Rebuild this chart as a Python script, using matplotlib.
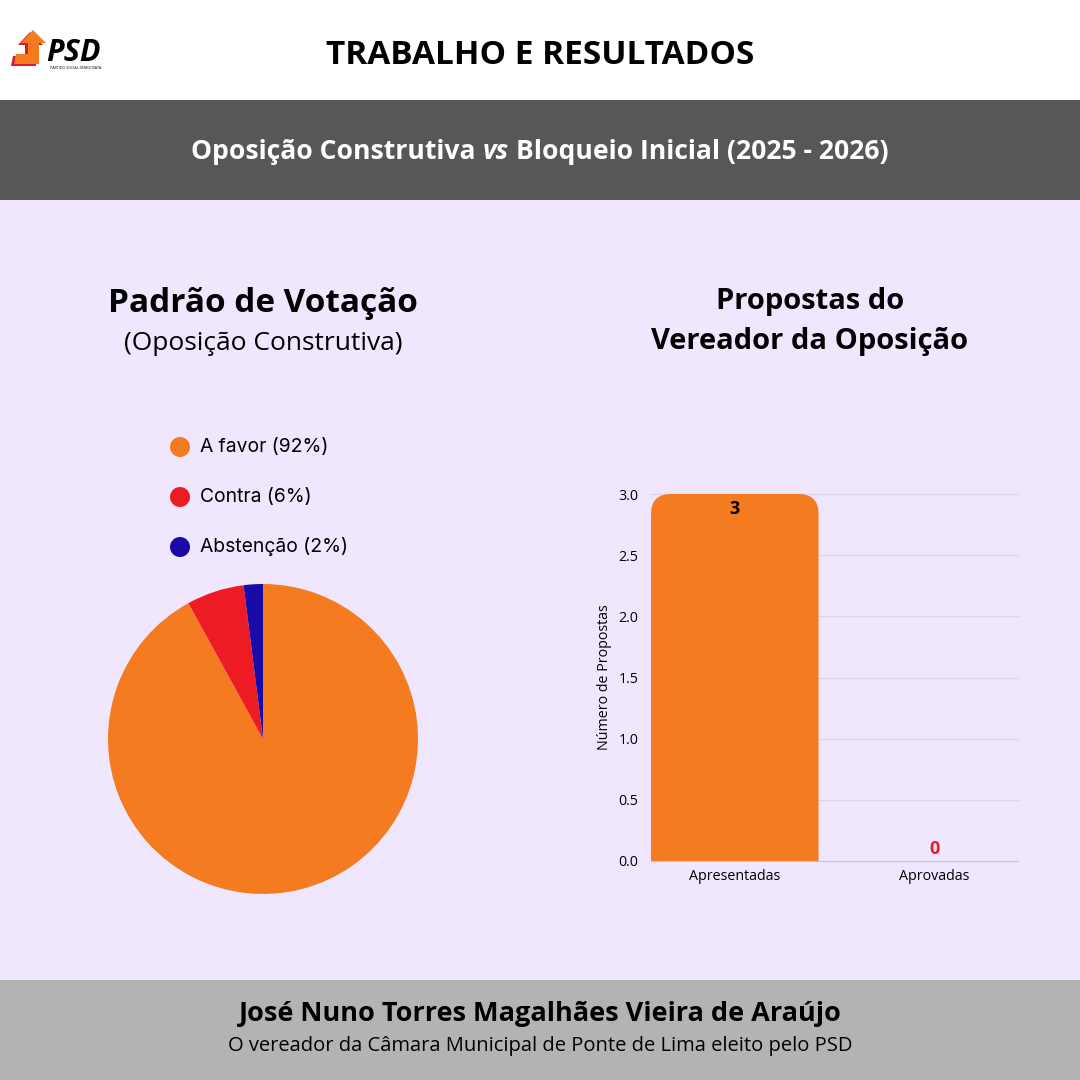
import matplotlib.pyplot as plt
from matplotlib.patches import Rectangle, Circle, Polygon, FancyBboxPatch

plt.rcParams['font.family'] = ['Open Sans', 'DejaVu Sans']

# data
vote_labels = ['A favor (92%)', 'Contra (6%)', 'Abstenção (2%)']
vote_shares = [92, 6, 2]
vote_colors = ['#f47b20', '#ed1c24', '#1a0aa8']

prop_cats = ['Apresentadas', 'Aprovadas']
prop_vals = [3, 0]
prop_label_colors = ['black', '#ed1c24']
yticks = [0.0, 0.5, 1.0, 1.5, 2.0, 2.5, 3.0]

W = 1080
fig = plt.figure(figsize=(10.8, 10.8), dpi=100)
fig.patch.set_facecolor('white')

# background axes in pixel coords (y down)
bg = fig.add_axes([0, 0, 1, 1])
bg.set_xlim(0, W)
bg.set_ylim(W, 0)
bg.axis('off')

bg.add_patch(Rectangle((0, 100), W, 100, color='#575757', lw=0))
bg.add_patch(Rectangle((0, 200), W, 780, color='#f0e6fe', lw=0))
bg.add_patch(Rectangle((0, 980), W, 100, color='#b3b3b3', lw=0))

# logo
arrow = [(33, 30), (46, 43), (39, 43), (39, 64), (14, 64), (16, 54), (28, 54), (28, 43), (21, 43)]
bg.add_patch(Polygon([(x - 3, y + 2) for x, y in arrow], color='#d4202a', lw=0))
bg.add_patch(Polygon(arrow, color='#f47b20', lw=0))
bg.text(46, 53, 'PSD', fontsize=22, fontweight='bold', style='italic', color='black',
        ha='left', va='center')
bg.text(50, 68, 'PARTIDO SOCIAL DEMOCRATA', fontsize=2.6, color='black', ha='left', va='center')

bg.text(540, 55, 'TRABALHO E RESULTADOS', fontsize=24, fontweight='bold', ha='center', va='center')

# subtitle with italic "vs"
parts = [('Oposição Construtiva', 'normal'), ('vs', 'italic'), ('Bloqueio Inicial (2025 - 2026)', 'normal')]
renderer = fig.canvas.get_renderer()
texts = []
widths = []
for s, st in parts:
    t = bg.text(0, 152, s, fontsize=19.1, fontweight='bold', style=st, color='white',
                ha='left', va='center')
    texts.append(t)
    widths.append(t.get_window_extent(renderer).width)
gap = 7
total = sum(widths) + gap * (len(parts) - 1)
x = 540 - total / 2
for t, w in zip(texts, widths):
    t.set_x(x)
    x += w + gap

# left titles
bg.text(263, 304, 'Padrão de Votação', fontsize=24, fontweight='bold', ha='center', va='center')
bg.text(263, 344, '(Oposição Construtiva)', fontsize=19, ha='center', va='center')

# right titles
bg.text(810, 301, 'Propostas do', fontsize=21, fontweight='bold', ha='center', va='center')
bg.text(810, 342, 'Vereador da Oposição', fontsize=21, fontweight='bold', ha='center', va='center')

# legend
for i, (lab, col) in enumerate(zip(vote_labels, vote_colors)):
    y = 447 + 50 * i
    bg.add_patch(Circle((180, y), 10, color=col, lw=0))
    bg.text(200, y, lab, fontsize=13.9, family=['Inter', 'DejaVu Sans'], ha='left', va='center')

# footer
bg.text(540, 1014, 'José Nuno Torres Magalhães Vieira de Araújo', fontsize=19.5, fontweight='bold',
        ha='center', va='center')
bg.text(540, 1046, 'O vereador da Câmara Municipal de Ponte de Lima eleito pelo PSD', fontsize=14.5,
        ha='center', va='center')

# pie
pax = fig.add_axes([(263 - 155) / W, (W - 739 - 155) / W, 310 / W, 310 / W])
pax.pie(vote_shares, colors=vote_colors, startangle=90, counterclock=False,
        wedgeprops=dict(linewidth=0))
pax.set_xlim(-1, 1)
pax.set_ylim(-1, 1)

# bars
ax = fig.add_axes([651 / W, (W - 861) / W, 367 / W, 367 / W])
ax.set_facecolor('none')
xs = list(range(len(prop_cats)))
bars = ax.bar(xs, prop_vals, width=0.84, color='#f47b20', zorder=2)
ax.set_xlim(-0.42, 1.42)
ax.set_ylim(0, 3)
for b in bars:
    if b.get_height() > 0:
        clip = FancyBboxPatch((b.get_x(), -1), b.get_width(), b.get_height() + 1,
                              boxstyle='round,pad=0,rounding_size=0.1',
                              mutation_aspect=1.635, transform=ax.transData)
        b.set_clip_path(clip)

for yv in yticks[1:]:
    ax.axhline(yv, color='#ddd5ec', lw=1, zorder=0, clip_on=False)

for xv, v, c in zip(xs, prop_vals, prop_label_colors):
    ax.text(xv, max(v - 0.12, 0.1), str(v), fontsize=13, fontweight='bold', color=c,
            ha='center', va='center', zorder=3)

ax.set_yticks(yticks)
ax.set_yticklabels(['%.1f' % v for v in yticks])
ax.set_xticks(xs)
ax.set_xticklabels(prop_cats)
ax.tick_params(length=0, labelsize=10.3, pad=6)
ax.tick_params(axis='y', pad=9)
for s in ['top', 'left', 'right']:
    ax.spines[s].set_visible(False)
ax.spines['bottom'].set_color('#c9c2d8')
ax.set_ylabel('Número de Propostas', fontsize=10.3, labelpad=5)

fig.savefig('out.png', dpi=100, facecolor=fig.get_facecolor())
